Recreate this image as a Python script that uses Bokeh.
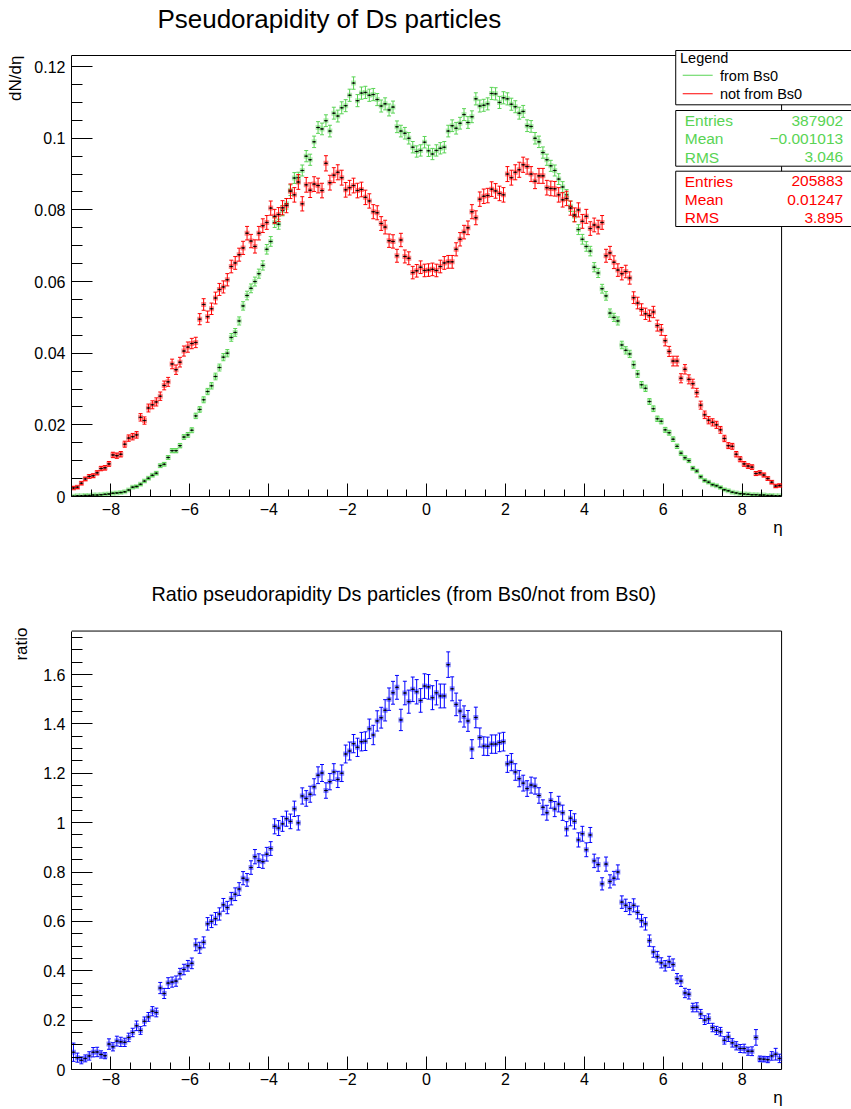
import numpy as np
from bokeh.plotting import figure
from bokeh.layouts import column
from bokeh.models import FixedTicker, Label, BoxAnnotation, ColumnDataSource, Title
from bokeh.embed import file_html
from bokeh.resources import INLINE

# ---------------- data ----------------
eta_low, eta_high, n_bins = -9.0, 9.0, 180

from_bs0 = [
    0.0001, 0.0002, 0.0002, 0.0003, 0.0003, 0.0004, 0.0004, 0.0005, 0.0006, 0.0007,
    0.0009, 0.0010, 0.0011, 0.0013, 0.0018, 0.0026, 0.0028, 0.0034, 0.0043, 0.0051,
    0.0059, 0.0065, 0.0086, 0.0090, 0.0109, 0.0128, 0.0128, 0.0142, 0.0166, 0.0172,
    0.0185, 0.0225, 0.0243, 0.0270, 0.0293, 0.0309, 0.0335, 0.0360, 0.0389, 0.0400,
    0.0444, 0.0458, 0.0490, 0.0532, 0.0561, 0.0581, 0.0600, 0.0622, 0.0645, 0.0690,
    0.0712, 0.0765, 0.0760, 0.0798, 0.0817, 0.0855, 0.0889, 0.0890, 0.0910, 0.0950,
    0.0940, 0.0990, 0.1030, 0.1026, 0.1049, 0.1020, 0.1070, 0.1062, 0.1085, 0.1091,
    0.1120, 0.1154, 0.1105, 0.1126, 0.1128, 0.1120, 0.1122, 0.1108, 0.1090, 0.1096,
    0.1079, 0.1087, 0.1032, 0.1020, 0.1014, 0.1000, 0.0975, 0.0963, 0.0966, 0.0989,
    0.0965, 0.0956, 0.0966, 0.0972, 0.0975, 0.1020, 0.1035, 0.1028, 0.1042, 0.1066,
    0.1044, 0.1060, 0.1110, 0.1090, 0.1092, 0.1096, 0.1125, 0.1124, 0.1100, 0.1113,
    0.1110, 0.1095, 0.1088, 0.1070, 0.1075, 0.1035, 0.1033, 0.1000, 0.0990, 0.0960,
    0.0940, 0.0923, 0.0910, 0.0886, 0.0864, 0.0842, 0.0810, 0.0782, 0.0745, 0.0718,
    0.0698, 0.0685, 0.0640, 0.0624, 0.0580, 0.0560, 0.0512, 0.0500, 0.0490, 0.0423,
    0.0408, 0.0398, 0.0368, 0.0342, 0.0312, 0.0302, 0.0265, 0.0245, 0.0217, 0.0210,
    0.0186, 0.0178, 0.0160, 0.0140, 0.0121, 0.0108, 0.0100, 0.0079, 0.0071, 0.0055,
    0.0045, 0.0040, 0.0033, 0.0030, 0.0025, 0.0019, 0.0016, 0.0012, 0.0010, 0.0008,
    0.0007, 0.0006, 0.0005, 0.0005, 0.0004, 0.0004, 0.0003, 0.0003, 0.0002, 0.0002,
]

not_from_bs0 = [
    0.0024, 0.0026, 0.0037, 0.0049, 0.0056, 0.0058, 0.0066, 0.0078, 0.0080, 0.0091,
    0.0116, 0.0114, 0.0118, 0.0146, 0.0163, 0.0167, 0.0172, 0.0221, 0.0212, 0.0247,
    0.0256, 0.0264, 0.0280, 0.0310, 0.0320, 0.0370, 0.0354, 0.0375, 0.0406, 0.0417,
    0.0427, 0.0430, 0.0495, 0.0536, 0.0502, 0.0524, 0.0554, 0.0578, 0.0585, 0.0605,
    0.0642, 0.0652, 0.0675, 0.0694, 0.0735, 0.0713, 0.0698, 0.0735, 0.0756, 0.0765,
    0.0805, 0.0782, 0.0787, 0.0806, 0.0812, 0.0852, 0.0842, 0.0878, 0.0817, 0.0870,
    0.0855, 0.0872, 0.0868, 0.0854, 0.0930, 0.0876, 0.0897, 0.0905, 0.0890, 0.0856,
    0.0862, 0.0868, 0.0854, 0.0857, 0.0835, 0.0825, 0.0795, 0.0792, 0.0762, 0.0752,
    0.0714, 0.0712, 0.0672, 0.0716, 0.0670, 0.0665, 0.0625, 0.0630, 0.0640, 0.0631,
    0.0632, 0.0634, 0.0631, 0.0642, 0.0652, 0.0655, 0.0655, 0.0690, 0.0718, 0.0738,
    0.0750, 0.0795, 0.0778, 0.0830, 0.0838, 0.0840, 0.0858, 0.0853, 0.0846, 0.0842,
    0.0900, 0.0890, 0.0905, 0.0912, 0.0926, 0.0921, 0.0900, 0.0880, 0.0895, 0.0895,
    0.0862, 0.0860, 0.0859, 0.0842, 0.0828, 0.0832, 0.0805, 0.0786, 0.0800, 0.0768,
    0.0782, 0.0748, 0.0758, 0.0752, 0.0765, 0.0672, 0.0680, 0.0654, 0.0632, 0.0622,
    0.0628, 0.0610, 0.0555, 0.0540, 0.0522, 0.0510, 0.0505, 0.0515, 0.0477, 0.0465,
    0.0435, 0.0405, 0.0378, 0.0378, 0.0330, 0.0355, 0.0327, 0.0315, 0.0290, 0.0255,
    0.0228, 0.0213, 0.0207, 0.0200, 0.0186, 0.0162, 0.0142, 0.0140, 0.0118, 0.0104,
    0.0091, 0.0085, 0.0082, 0.0064, 0.0066, 0.0060, 0.0050, 0.0040, 0.0029, 0.0031,
]

ratio = [
    0.070, 0.048, 0.037, 0.045, 0.055, 0.070, 0.071, 0.061, 0.056, 0.103,
    0.092, 0.115, 0.112, 0.110, 0.130, 0.150, 0.177, 0.158, 0.195, 0.213,
    0.236, 0.231, 0.330, 0.308, 0.350, 0.354, 0.358, 0.388, 0.405, 0.420,
    0.430, 0.505, 0.493, 0.515, 0.590, 0.600, 0.611, 0.630, 0.667, 0.656,
    0.692, 0.710, 0.731, 0.775, 0.768, 0.818, 0.862, 0.846, 0.842, 0.872,
    0.895, 0.985, 0.978, 0.995, 1.016, 1.005, 1.056, 0.999, 1.108, 1.098,
    1.115, 1.145, 1.192, 1.201, 1.130, 1.166, 1.205, 1.175, 1.200, 1.278,
    1.290, 1.320, 1.305, 1.328, 1.330, 1.380, 1.355, 1.412, 1.425, 1.455,
    1.500, 1.526, 1.548, 1.416, 1.525, 1.490, 1.540, 1.530, 1.495, 1.553,
    1.550, 1.506, 1.526, 1.513, 1.513, 1.640, 1.542, 1.479, 1.452, 1.430,
    1.412, 1.298, 1.426, 1.345, 1.310, 1.309, 1.318, 1.318, 1.325, 1.328,
    1.238, 1.245, 1.205, 1.178, 1.160, 1.138, 1.152, 1.148, 1.110, 1.062,
    1.040, 1.090, 1.055, 1.075, 1.040, 0.975, 1.018, 1.005, 0.930, 0.955,
    0.890, 0.950, 0.845, 0.830, 0.752, 0.832, 0.762, 0.775, 0.800, 0.678,
    0.665, 0.652, 0.665, 0.636, 0.603, 0.590, 0.522, 0.476, 0.457, 0.432,
    0.420, 0.436, 0.425, 0.368, 0.358, 0.310, 0.305, 0.251, 0.252, 0.225,
    0.200, 0.206, 0.170, 0.158, 0.153, 0.118, 0.132, 0.108, 0.096, 0.085,
    0.085, 0.074, 0.074, 0.130, 0.043, 0.042, 0.040, 0.055, 0.062, 0.045,
]

entries_from, mean_from, rms_from = "387902", "\u22120.001013", "3.046"
entries_not, mean_not, rms_not = "205883", "0.01247", "3.895"

x_major = [-8, -6, -4, -2, 0, 2, 4, 6, 8]
x_labels = ["\u22128", "\u22126", "\u22124", "\u22122", "0", "2", "4", "6", "8"]
y1_major = [0, 0.02, 0.04, 0.06, 0.08, 0.1, 0.12]
y1_labels = ["0", "0.02", "0.04", "0.06", "0.08", "0.1", "0.12"]
y2_major = [0, 0.2, 0.4, 0.6, 0.8, 1.0, 1.2, 1.4, 1.6]
y2_labels = ["0", "0.2", "0.4", "0.6", "0.8", "1", "1.2", "1.4", "1.6"]

title1 = "Pseudorapidity of Ds particles"
title2 = "Ratio pseudorapidity Ds particles (from Bs0/not from Bs0)"
ytitle1 = "dN/d\u03b7"
ytitle2 = "ratio"
xtitle = "\u03b7"
legend_title = "Legend"
legend_items = ["from Bs0", "not from Bs0"]

# ---------------- styling / geometry ----------------
GREEN = "#59D454"
RED = "#FF0000"
BLUE = "#0000FF"
FONT = "Liberation Sans"

W = 851
FRAME_L = 70.0            # page px of eta_low
FRAME_R = 781.0           # page px of eta_high
PX_PER_ETA = (FRAME_R - FRAME_L) / (eta_high - eta_low)
Y1MAX, Y2MAX = 0.1231, 1.776
TOP1, BOT1 = 55.0, 496.0
TOP2, BOT2 = 631.0, 1072.0
H1 = 554
H2 = 1109 - H1

bw = (eta_high - eta_low) / n_bins
centers = eta_low + bw * (np.arange(n_bins) + 0.5)
g = np.array(from_bs0)
r = np.array(not_from_bs0)
q = np.array(ratio)
n_from = float(entries_from)
n_not = float(entries_not)
g_err = np.sqrt(g / (n_from * bw))
r_err = np.sqrt(r / (n_not * bw))
q_err = q * np.sqrt(1.0 / (g * n_from * bw) + 1.0 / (r * n_not * bw))


def fx(px):
    return eta_low + (px - FRAME_L) / PX_PER_ETA


def make_fig(canvas_top, height, top, bot, ymax, ymajor, ylabels, yminor_step,
             xtick_standoff):
    # the bokeh frame is extended to the canvas top and right edge so that
    # the ROOT-style title / legend / stat boxes can live inside it; the ROOT
    # frame itself is drawn by the axes (bounded) plus two edge segments
    fy = lambda py: (bot - py) / (bot - top) * ymax
    p = figure(width=W, height=height,
               x_range=(eta_low, fx(W)), y_range=(0, fy(canvas_top)),
               min_border_left=int(FRAME_L), min_border_right=0,
               min_border_top=0, min_border_bottom=int(canvas_top + height - bot),
               output_backend="svg", toolbar_location=None, title=None)
    p.background_fill_color = "white"
    p.border_fill_color = "white"
    p.outline_line_color = None
    p.xgrid.visible = False
    p.ygrid.visible = False
    xa = p.xaxis[0]
    ya = p.yaxis[0]
    xa.bounds = (eta_low, eta_high)
    ya.bounds = (0, ymax)
    xa.ticker = FixedTicker(ticks=x_major,
                            minor_ticks=list(np.arange(-9.0, 9.01, 0.5)))
    xa.major_label_overrides = {t: l for t, l in zip(x_major, x_labels)}
    ya.ticker = FixedTicker(ticks=ymajor,
                            minor_ticks=list(np.arange(0, ymax, yminor_step)))
    ya.major_label_overrides = {t: l for t, l in zip(ymajor, ylabels)}
    for ax in (xa, ya):
        ax.axis_line_color = "black"
        ax.major_tick_line_color = "black"
        ax.minor_tick_line_color = "black"
        ax.major_tick_out = 0
        ax.minor_tick_out = 0
        ax.major_label_text_font = FONT
        ax.major_label_text_font_size = "16px"
        ax.major_label_text_color = "black"
    xa.major_tick_in = 13
    xa.minor_tick_in = 7
    ya.major_tick_in = 21
    ya.minor_tick_in = 11
    ya.major_label_standoff = 6
    xa.major_label_standoff = xtick_standoff
    # top and right edges of the ROOT frame
    p.segment(x0=[eta_low, eta_high], y0=[ymax, 0], x1=[eta_high, eta_high],
              y1=[ymax, ymax], line_color="black", line_width=1)
    return p, fy


def axis_title(p, side, s, offset, standoff):
    p.add_layout(Title(text=s, align="left", offset=offset, standoff=standoff,
                       vertical_align="top", text_font=FONT,
                       text_font_size="17px", text_font_style="normal",
                       text_color="black"), side)


def draw_series(p, y, err, color):
    src = ColumnDataSource(dict(x=centers, y=y, lo=y - err, hi=y + err,
                                xl=centers - bw / 2, xr=centers + bw / 2))
    p.scatter("x", "y", source=src, marker="square", size=5,
              fill_color=color, fill_alpha=0.45, line_color=None)
    p.segment("x", "lo", "x", "hi", source=src, line_color=color, line_width=1)
    p.scatter("x", "lo", source=src, marker="dash", size=4, line_color=color)
    p.scatter("x", "hi", source=src, marker="dash", size=4, line_color=color)
    p.segment("xl", "y", "xr", "y", source=src, line_color="black",
              line_width=1, line_alpha=0.85)
    p.scatter("x", "y", source=src, marker="square", size=1.5,
              fill_color="black", line_color=None)


def text(p, fy, px, py, s, size, color="black", align="left"):
    p.add_layout(Label(x=fx(px), y=fy(py), text=s, text_font=FONT,
                       text_font_size=size, text_color=color,
                       text_align=align, text_baseline="middle"))


def box(p, fy, left, right, top_px, bot_px, fill="white", line="black"):
    p.add_layout(BoxAnnotation(left=fx(left), right=fx(right),
                               top=fy(top_px), bottom=fy(bot_px),
                               fill_color=fill, fill_alpha=1,
                               line_color=line, line_alpha=1, line_width=1))


# ---------------- top panel ----------------
p1, fy1 = make_fig(0, H1, TOP1, BOT1, Y1MAX, y1_major, y1_labels, 0.005, 6)
axis_title(p1, "left", ytitle1, BOT1 - 100.4, 10)
axis_title(p1, "below", xtitle, 771.7 - FRAME_L, 0)
draw_series(p1, g, g_err, GREEN)
draw_series(p1, r, r_err, RED)

text(p1, fy1, 156, 18.3, title1, "26px")

# legend
box(p1, fy1, 675, 880, 50, 104.3)
text(p1, fy1, 679.3, 57.5, legend_title, "14.5px")
box(p1, fy1, 682, 712, 74.2, 75.2, fill=GREEN, line=None)
box(p1, fy1, 682, 712, 92.8, 93.8, fill=RED, line=None)
text(p1, fy1, 719.3, 75, legend_items[0], "14.5px")
text(p1, fy1, 719.3, 93.3, legend_items[1], "14.5px")

# stats boxes
box(p1, fy1, 675, 880, 110, 165.7)
for yy, lab, val in [(120, "Entries", entries_from), (138.3, "Mean", mean_from),
                     (156.7, "RMS", rms_from)]:
    text(p1, fy1, 684, yy, lab, "15.5px", color=GREEN)
    text(p1, fy1, 842.7, yy, val, "15.5px", color=GREEN, align="right")
box(p1, fy1, 675, 880, 170.7, 226)
for yy, lab, val in [(180.7, "Entries", entries_not), (199.3, "Mean", mean_not),
                     (217.3, "RMS", rms_not)]:
    text(p1, fy1, 684, yy, lab, "15.5px", color=RED)
    text(p1, fy1, 842.7, yy, val, "15.5px", color=RED, align="right")

# ---------------- bottom panel ----------------
p2, fy2 = make_fig(H1, H2, TOP2, BOT2, Y2MAX, y2_major, y2_labels, 0.05, 3)
axis_title(p2, "left", ytitle2, BOT2 - 663.1, 15)
axis_title(p2, "below", xtitle, 771.7 - FRAME_L, 1)
draw_series(p2, q, q_err, BLUE)
text(p2, fy2, 150, 593.8, title2, "19.8px")

layout = column(p1, p2, spacing=0)
open("out.html", "w").write(file_html(layout, INLINE))
